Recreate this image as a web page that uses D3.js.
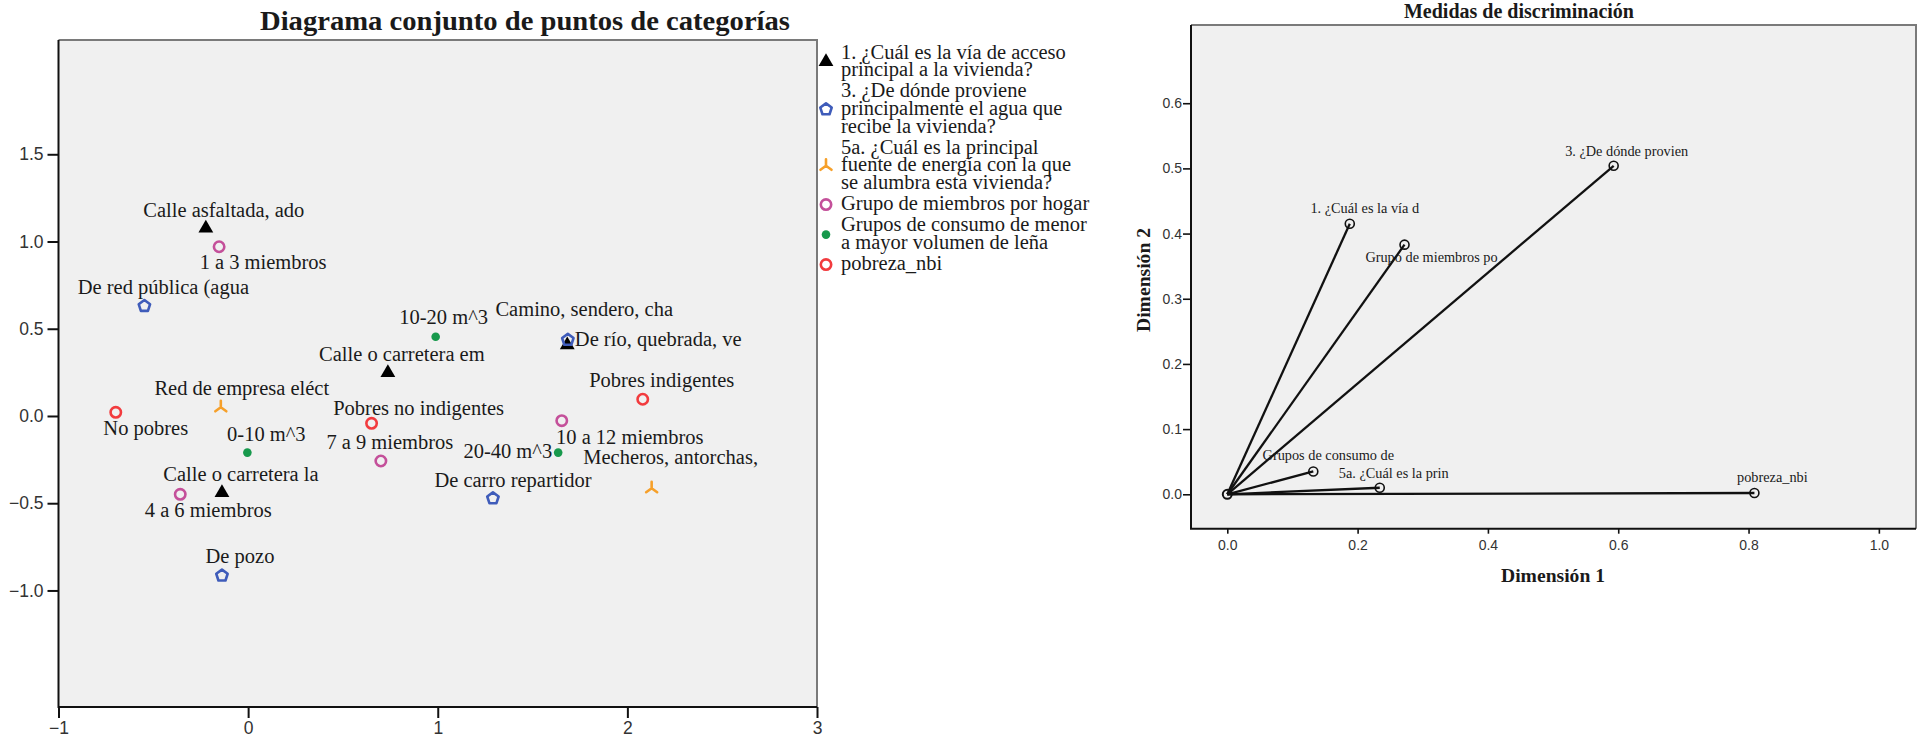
<!DOCTYPE html>
<html>
<head>
<meta charset="utf-8">
<title>Diagrama conjunto de puntos de categorías</title>
<script src="https://d3js.org/d3.v7.min.js"></script>
<style>
  body { margin: 0; background: #fff; }
  text { font-family: "Liberation Serif", "Times New Roman", serif; fill: #1a1a1a; }
  .tick text { font-family: "Liberation Sans", Arial, sans-serif; fill: #333; }
</style>
</head>
<body>
<svg width="1921" height="741"></svg>
<script>
// ---------- joint plot of category points ----------
const groupNames = ["via", "agua", "energia", "miembros", "lena", "pobreza"];

const legendLines = [
  ["1. ¿Cuál es la vía de acceso", "principal a la vivienda?"],
  ["3. ¿De dónde proviene", "principalmente el agua que", "recibe la vivienda?"],
  ["5a. ¿Cuál es la principal", "fuente de energía con la que", "se alumbra esta vivienda?"],
  ["Grupo de miembros por hogar"],
  ["Grupos de consumo de menor", "a mayor volumen de leña"],
  ["pobreza_nbi"]
];

const catLabels = [
  "Calle asfaltada, ado", "Calle o carretera em", "Camino, sendero, cha", "Calle o carretera la",
  "De red pública (agua", "De río, quebrada, ve", "De carro repartidor", "De pozo",
  "Red de empresa eléct", "Mecheros, antorchas,",
  "1 a 3 miembros", "4 a 6 miembros", "7 a 9 miembros", "10 a 12 miembros",
  "0-10 m^3", "10-20 m^3", "20-40 m^3",
  "No pobres", "Pobres no indigentes", "Pobres indigentes"
];
const catGroup = [0, 0, 0, 0, 1, 1, 1, 1, 2, 2, 3, 3, 3, 3, 4, 4, 4, 5, 5, 5];
const catDim1 = [-0.223, 0.737, 1.683, -0.138, -0.547, 1.686, 1.291, -0.138, -0.144, 2.128,
                 -0.153, -0.358, 0.700, 1.654, -0.004, 0.989, 1.635, -0.698, 0.651, 2.081];
const catDim2 = [1.076, 0.248, 0.407, -0.440, 0.630, 0.436, -0.472, -0.915, 0.050, -0.414,
                 0.970, -0.449, -0.258, -0.027, -0.210, 0.454, -0.210, 0.021, -0.042, 0.096];

// label placement relative to the point (dx, dy in px, text anchor)
const catLabelPos = [
  [18, -18, "middle"], [14, -18, "middle"], [17, -36, "middle"], [19, -18, "middle"],
  [19, -19, "middle"], [7, 0, "start"], [20, -18, "middle"], [18, -19, "middle"],
  [21, -19, "middle"], [19, -31, "middle"],
  [44, 16, "middle"], [28, 16, "middle"], [9, -19, "middle"], [68, 17, "middle"],
  [19, -18, "middle"], [8, -19, "middle"], [-6, -1, "end"],
  [30, 16, "middle"], [47, -15, "middle"], [19, -19, "middle"]
];

const jointXTicks = [-1, 0, 1, 2, 3];
const jointYTicks = [-1.0, -0.5, 0.0, 0.5, 1.0, 1.5];

// ---------- discrimination measures ----------
const discLabels = ["1. ¿Cuál es la vía d", "3. ¿De dónde provien", "5a. ¿Cuál es la prin",
                    "Grupo de miembros po", "Grupos de consumo de", "pobreza_nbi"];
const discDim1 = [0.188, 0.593, 0.234, 0.272, 0.132, 0.809];
const discDim2 = [0.415, 0.504, 0.010, 0.383, 0.035, 0.002];
const discLabelPos = [[15, -15], [13, -14], [14, -14], [27, 13], [15, -16], [18, -16]];

const discXTicks = [0.0, 0.2, 0.4, 0.6, 0.8, 1.0];
const discYTicks = [0.0, 0.1, 0.2, 0.3, 0.4, 0.5, 0.6];

const svg = d3.select("svg");

// marker shapes
const pentagon = (r) => {
  const pts = d3.range(5).map(i => {
    const a = -Math.PI / 2 + i * 2 * Math.PI / 5;
    return [r * Math.cos(a), r * Math.sin(a)];
  });
  return "M" + pts.map(p => p.join(",")).join("L") + "Z";
};
const wye = "M0,0L0,-6.5M0,0L-5.5,4M0,0L5.5,4";

function drawMarker(g, group) {
  if (group === 0) {
    g.append("path").attr("d", d3.symbol(d3.symbolTriangle, 95)()).attr("fill", "#000");
  } else if (group === 1) {
    g.append("path").attr("d", pentagon(6)).attr("fill", "none")
      .attr("stroke", "#3f5cba").attr("stroke-width", 2.6).attr("stroke-linejoin", "round");
  } else if (group === 2) {
    g.append("path").attr("d", wye).attr("fill", "none")
      .attr("stroke", "#f6a02a").attr("stroke-width", 2.6).attr("stroke-linecap", "round");
  } else if (group === 3) {
    g.append("circle").attr("r", 5.2).attr("fill", "none")
      .attr("stroke", "#c4509a").attr("stroke-width", 2.6);
  } else if (group === 4) {
    g.append("circle").attr("r", 4.3).attr("fill", "#17994c");
  } else {
    g.append("circle").attr("r", 5.2).attr("fill", "none")
      .attr("stroke", "#f23b3e").attr("stroke-width", 2.6);
  }
}

function drawFrame(g, x0, x1, y0, y1) {
  g.append("rect").attr("x", x0).attr("y", y0).attr("width", x1 - x0).attr("height", y1 - y0)
    .attr("fill", "#f0f0f0");
  g.append("path").attr("d", `M${x0},${y0}H${x1}V${y1}`).attr("fill", "none")
    .attr("stroke", "#7a7a7a").attr("stroke-width", 2);
  g.append("path").attr("d", `M${x0},${y0}V${y1}H${x1}`).attr("fill", "none")
    .attr("stroke", "#111").attr("stroke-width", 2);
}

// ================= left chart =================
const jx = d3.scaleLinear().domain([-1, 3]).range([58.5, 817]);
const jy = d3.scaleLinear().domain([-1.668, 2.155]).range([707, 40]);

const left = svg.append("g");
drawFrame(left, 58.5, 817, 40, 707);

left.append("text").attr("x", 525).attr("y", 30).attr("text-anchor", "middle")
  .attr("font-size", 27).attr("font-weight", "bold")
  .attr("textLength", 530).attr("lengthAdjust", "spacingAndGlyphs")
  .text("Diagrama conjunto de puntos de categorías");

const jxAxis = left.append("g").attr("transform", "translate(0,707)")
  .call(d3.axisBottom(jx).tickValues(jointXTicks).tickSize(11).tickPadding(4).tickFormat(d3.format("d")));
const jyAxis = left.append("g").attr("transform", "translate(58.5,0)")
  .call(d3.axisLeft(jy).tickValues(jointYTicks).tickSize(11).tickPadding(4).tickFormat(d3.format(".1f")));
[jxAxis, jyAxis].forEach(a => {
  a.select(".domain").remove();
  a.selectAll(".tick line").attr("stroke", "#111").attr("stroke-width", 2);
  a.selectAll(".tick text").attr("font-size", 17.5);
});

const pts = left.append("g");
catLabels.forEach((lab, i) => {
  const px = jx(catDim1[i]), py = jy(catDim2[i]);
  const [dx, dy, anchor] = catLabelPos[i];
  pts.append("text").attr("x", px + dx).attr("y", py + dy).attr("dy", "0.32em")
    .attr("text-anchor", anchor).attr("font-size", 20.5).text(lab);
});
catLabels.forEach((lab, i) => {
  const g = pts.append("g").attr("transform", `translate(${jx(catDim1[i])},${jy(catDim2[i])})`);
  drawMarker(g, catGroup[i]);
});

// legend
const lineH = 17.6, itemGap = 3.6;
let ly = 52;
const legend = svg.append("g");
legendLines.forEach((lines, gi) => {
  lines.forEach((t, k) => {
    legend.append("text").attr("x", 841).attr("y", ly + k * lineH).attr("dy", "0.32em")
      .attr("font-size", 20.5).text(t);
  });
  const mid = ly + (lines.length - 1) * lineH / 2;
  drawMarker(legend.append("g").attr("transform", `translate(826,${mid + 1})`), gi);
  ly += lines.length * lineH + itemGap;
});

// ================= right chart =================
const dx = d3.scaleLinear().domain([-0.0557, 1.057]).range([1191, 1916]);
const dy = d3.scaleLinear().domain([-0.0528, 0.720]).range([528.7, 25]);

const right = svg.append("g");
drawFrame(right, 1191, 1916, 25, 528.7);

right.append("text").attr("x", 1519).attr("y", 18).attr("text-anchor", "middle")
  .attr("font-size", 20).attr("font-weight", "bold").text("Medidas de discriminación");

const dxAxis = right.append("g").attr("transform", "translate(0,528.7)")
  .call(d3.axisBottom(dx).tickValues(discXTicks).tickSize(5).tickPadding(6).tickFormat(d3.format(".1f")));
const dyAxis = right.append("g").attr("transform", "translate(1191,0)")
  .call(d3.axisLeft(dy).tickValues(discYTicks).tickSize(8).tickPadding(1).tickFormat(d3.format(".1f")));
[dxAxis, dyAxis].forEach(a => {
  a.select(".domain").remove();
  a.selectAll(".tick line").attr("stroke", "#111").attr("stroke-width", 1.6);
  a.selectAll(".tick text").attr("font-size", 14);
});

right.append("text").attr("x", 1553).attr("y", 575).attr("dy", "0.35em").attr("text-anchor", "middle")
  .attr("font-size", 19.6).attr("font-weight", "bold").text("Dimensión 1");
right.append("text").attr("transform", "translate(1143,280) rotate(-90)").attr("dy", "0.35em")
  .attr("text-anchor", "middle").attr("font-size", 19.6).attr("font-weight", "bold").text("Dimensión 2");

discLabels.forEach((lab, i) => {
  right.append("line").attr("x1", dx(0)).attr("y1", dy(0)).attr("x2", dx(discDim1[i])).attr("y2", dy(discDim2[i]))
    .attr("stroke", "#111").attr("stroke-width", 2.3);
});
right.append("circle").attr("cx", dx(0)).attr("cy", dy(0)).attr("r", 4.5)
  .attr("fill", "none").attr("stroke", "#111").attr("stroke-width", 2);
discLabels.forEach((lab, i) => {
  const px = dx(discDim1[i]), py = dy(discDim2[i]);
  right.append("circle").attr("cx", px).attr("cy", py).attr("r", 4.5)
    .attr("fill", "none").attr("stroke", "#111").attr("stroke-width", 1.6);
  right.append("text").attr("x", px + discLabelPos[i][0]).attr("y", py + discLabelPos[i][1]).attr("dy", "0.32em")
    .attr("text-anchor", "middle").attr("font-size", 14.3).text(lab);
});
</script>
</body>
</html>
